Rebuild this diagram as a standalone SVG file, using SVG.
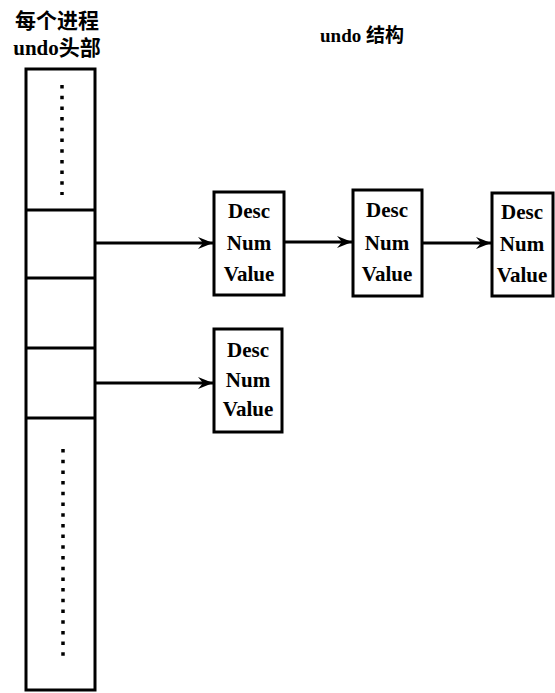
<svg xmlns="http://www.w3.org/2000/svg" width="555" height="693" viewBox="0 0 555 693">
<defs>
<style>
.cjk{font-family:"Liberation Serif","Noto Sans CJK SC",serif;font-weight:bold;fill:#000}
.box{fill:#fff;stroke:#000;stroke-width:3}
.ln{stroke:#000;stroke-width:3;fill:none}
.dots{stroke:#000;stroke-width:3.5;fill:none;stroke-dasharray:3.5 7.2}
.lbl{font-family:"Liberation Serif",serif;font-weight:bold;font-size:21px;text-anchor:middle;fill:#000}
</style>
<marker id="ah" markerWidth="16" markerHeight="14" refX="15" refY="7" orient="auto" markerUnits="userSpaceOnUse">
<path d="M0,1 L15,7 L0,13 L5,7 Z" fill="#000"/>
</marker>
</defs>
<rect width="555" height="693" fill="#fff"/>
<g id="titles">
<text class="cjk" x="57" y="28" font-size="21" text-anchor="middle">每个进程</text>
<text class="cjk" x="57" y="55" font-size="21" text-anchor="middle">undo头部</text>
<text class="cjk" x="362" y="42" font-size="19" text-anchor="middle">undo 结构</text>
</g>
<g id="column">
<rect class="box" x="26" y="69" width="69" height="621"/>
<line class="ln" x1="26" y1="210" x2="95" y2="210"/>
<line class="ln" x1="26" y1="278" x2="95" y2="278"/>
<line class="ln" x1="26" y1="348" x2="95" y2="348"/>
<line class="ln" x1="26" y1="418" x2="95" y2="418"/>
<line class="dots" x1="62" y1="85" x2="62" y2="195"/>
<line class="dots" x1="63" y1="449" x2="63" y2="660"/>
</g>
<g id="connectors">
<line class="ln" x1="95" y1="243" x2="213" y2="243" marker-end="url(#ah)"/>
<line class="ln" x1="284" y1="242" x2="352" y2="242" marker-end="url(#ah)"/>
<line class="ln" x1="422" y1="243" x2="491" y2="243" marker-end="url(#ah)"/>
<line class="ln" x1="95" y1="383" x2="213" y2="383" marker-end="url(#ah)"/>
</g>
<g id="node1">
<rect class="box" x="214" y="192" width="70" height="103"/>
<text class="lbl" x="249" y="218">Desc</text>
<text class="lbl" x="249" y="250">Num</text>
<text class="lbl" x="249" y="281">Value</text>
</g>
<g id="node2">
<rect class="box" x="353" y="190" width="69" height="106"/>
<text class="lbl" x="387" y="217">Desc</text>
<text class="lbl" x="387" y="250">Num</text>
<text class="lbl" x="387" y="281">Value</text>
</g>
<g id="node3">
<rect class="box" x="492" y="193" width="61" height="103"/>
<text class="lbl" x="522" y="219">Desc</text>
<text class="lbl" x="522" y="251">Num</text>
<text class="lbl" x="522" y="282">Value</text>
</g>
<g id="node4">
<rect class="box" x="214" y="329" width="68" height="103"/>
<text class="lbl" x="248" y="357">Desc</text>
<text class="lbl" x="248" y="387">Num</text>
<text class="lbl" x="248" y="416">Value</text>
</g>
</svg>
